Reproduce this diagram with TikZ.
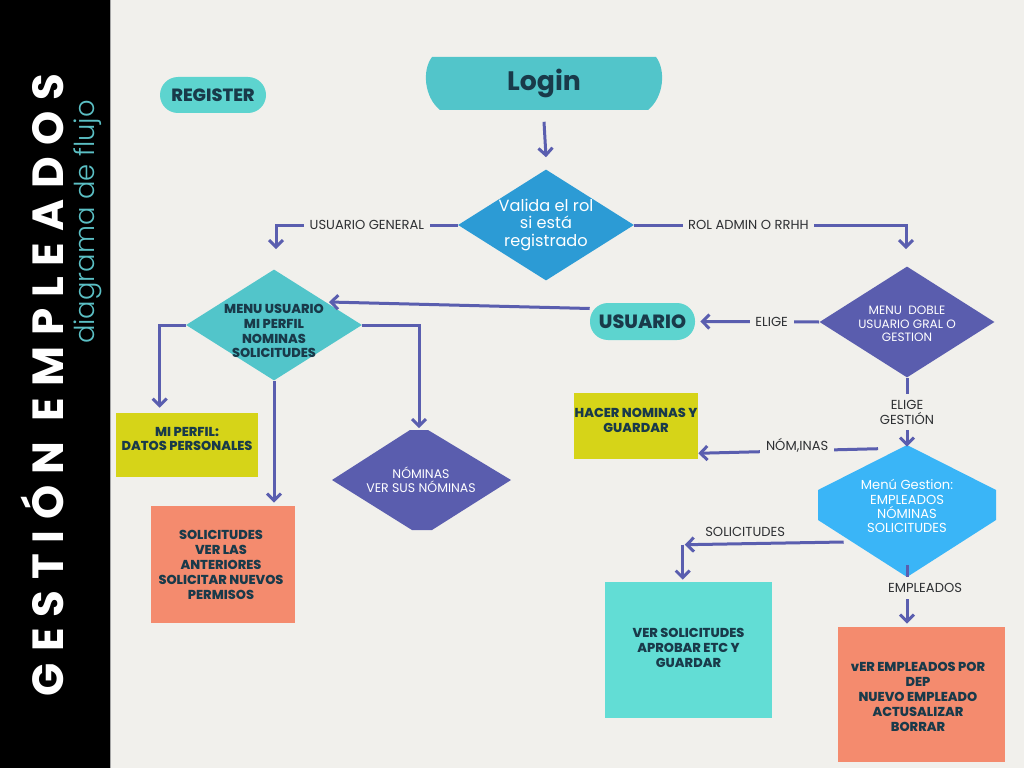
\documentclass[tikz,border=0pt]{standalone}
\usepackage{fontspec}
\setmainfont{Poppins}
\newfontfamily\titlefont[LetterSpace=25]{Poppins}
\newfontfamily\lightfont{Poppins Light}
\newfontfamily\heavyfont{Poppins ExtraBold}
\usetikzlibrary{shapes.geometric,arrows.meta,calc}
\definecolor{bg}{HTML}{F1F0EC}
\definecolor{tealL}{HTML}{52C5CA}
\definecolor{tealP}{HTML}{5DD4CF}
\definecolor{tealB}{HTML}{62DDD5}
\definecolor{blueV}{HTML}{2C9BD5}
\definecolor{purp}{HTML}{5A5DAE}
\definecolor{lblue}{HTML}{3AB5F7}
\definecolor{yell}{HTML}{D6D418}
\definecolor{salm}{HTML}{F48B6E}
\definecolor{arrc}{HTML}{5A5EAF}
\definecolor{dark}{HTML}{193A4A}
\definecolor{lbltxt}{HTML}{2E3033}
\definecolor{subt}{HTML}{5BBFC4}
\def\px{0.025cm}
\begin{document}
\begin{tikzpicture}[x=0.025cm,y=-0.025cm,
  dia/.style={diamond, inner sep=0pt, draw=none},
  boxn/.style={rectangle, inner sep=0pt, draw=none},
  btext/.style={font=\heavyfont\fontsize{9.2}{10.6}\selectfont, text=dark, align=center, inner sep=0pt},
  wtext/.style={text=white, align=center, inner sep=0pt},
  arr/.style={draw=arrc, line width=3*\px, -{Straight Barb[length=5pt,width=10pt]}},
  lbl/.style={fill=bg, text=lbltxt, font=\fontsize{9.3}{11}\selectfont, inner xsep=4pt, inner ysep=3pt, align=center},
  lbltwo/.style={text=lbltxt, font=\fontsize{9.3}{11}\selectfont, inner sep=0pt}
]
\useasboundingbox (0,0) rectangle (1024,768);
\fill[bg] (0,0) rectangle (1024,768);
% sidebar
\fill[black] (0,0) rectangle (110,768);
\draw[gray!70, line width=1*\px] (110.5,0) -- (110.5,768);
\node[rotate=90, text=white, inner sep=0pt] (title) at (42,385) {\titlefont\bfseries\fontsize{31}{33}\selectfont GESTIÓN EMPLEADOS};
\node[rotate=90, text=subt, inner sep=0pt] (subtitle) at (88,222) {\lightfont\fontsize{19.5}{22}\selectfont diagrama de flujo};

% REGISTER
\node[boxn, fill=tealP, minimum width=106*\px, minimum height=36*\px, rounded corners=18*\px, font=\heavyfont\fontsize{12.6}{15}\selectfont, text=dark] (reg) at (213,95) {REGISTER};

% Login
\fill[tealL] (432,57) -- (656,57) .. controls (666,70) and (664,97) .. (648,110) -- (440,110) .. controls (424,97) and (422,70) .. (432,57);
\node[boxn, minimum width=220*\px, minimum height=53*\px, font=\bfseries\fontsize{19}{21}\selectfont, text=dark] (login) at (544,83) {Login};

% Valida
\node[dia, fill=blueV, minimum width=176*\px, minimum height=111*\px] (valida) at (546,225) {};
\node[wtext, font=\fontsize{11.5}{12.2}\selectfont] (validat) at (valida) {Valida el rol\\si está\\registrado};

% Menu usuario
\node[dia, fill=tealL, minimum width=176*\px, minimum height=111*\px] (mu) at (274,325) {};
\node[btext] (mut) at ($(mu)+(0,6)$) {MENU USUARIO\\MI PERFIL\\NOMINAS\\SOLICITUDES};

% Menu doble
\node[dia, fill=purp, minimum width=175*\px, minimum height=111*\px] (doble) at (907,322) {};
\node[wtext, font=\fontsize{8.6}{9.7}\selectfont] (doblet) at ($(doble)+(0,2)$) {MENU\ \ DOBLE\\USUARIO GRAL O\\GESTION};

% USUARIO pill
\node[boxn, fill=tealP, minimum width=105*\px, minimum height=37*\px, rounded corners=18*\px, font=\heavyfont\fontsize{13.6}{16}\selectfont, text=dark] (usuario) at (642.5,321.5) {USUARIO};

% Nominas hexagon
\fill[purp] (410,430) -- (428,430) -- (511,480) -- (432,530) -- (412,530) -- (332,480) -- cycle;
\node[boxn, minimum width=179*\px, minimum height=99*\px, text=white, align=center, font=\fontsize{8.9}{10}\selectfont] (nom) at (421,480) {NÓMINAS\\VER SUS NÓMINAS};

% Menu gestion hexagon
\fill[lblue] (907,445) -- (996,490) -- (996,520) -- (907,577) -- (818,520) -- (818,490) -- cycle;
\node[boxn, minimum width=178*\px, minimum height=132*\px] (gest) at (907,511) {};
\node[wtext, font=\fontsize{9.3}{10}\selectfont] (gestt) at (907,506) {Menú Gestion:\\EMPLEADOS\\NÓMINAS\\SOLICITUDES};

% Boxes
\node[boxn, fill=yell, minimum width=142*\px, minimum height=64*\px] (perfil) at (187,445) {};
\node[btext] (perfilt) at (187,439) {MI PERFIL:\\DATOS PERSONALES};

\node[boxn, fill=salm, minimum width=144*\px, minimum height=117*\px] (solic) at (223,564.5) {};
\node[btext] (solict) at (221,565) {SOLICITUDES\\VER LAS\\ANTERIORES\\SOLICITAR NUEVOS\\PERMISOS};

\node[boxn, fill=yell, minimum width=124*\px, minimum height=66*\px] (hacer) at (636,426) {};
\node[btext] (hacert) at (636,420) {HACER NOMINAS Y\\GUARDAR};

\node[boxn, fill=tealB, minimum width=167*\px, minimum height=136*\px] (versol) at (688.5,650) {};
\node[btext] (versolt) at (688.5,648) {VER SOLICITUDES\\APROBAR ETC Y\\GUARDAR};

\node[boxn, fill=salm, minimum width=167*\px, minimum height=135*\px] (emp) at (921.5,694.5) {};
\node[btext] (empt) at (918,697) {vER EMPLEADOS POR\\DEP\\NUEVO EMPLEADO\\ACTUSALIZAR\\BORRAR};

% Connectors
\draw[arr] ($(login.south)+(0,12)$) -- ($(valida.north)+(0,-12)$);
\draw[arr] (valida.west) -| ($(mu.north)+(2,-20)$) node[lbl, pos=0.25] (lug) {USUARIO GENERAL};
\draw[arr] (valida.east) -| ($(doble.north)+(-1,-17)$) node[lbl, pos=0.21] (lra) {ROL ADMIN O RRHH};
\draw[arr] (mu.west) -| ($(perfil.north west)+(44,-5)$);
\draw[arr] (mu.south) -- ($(mu.south |- solic.north)+(0,-3)$);
\draw[arr] (mu.east) -| ($(nom.north)+(-2,-2)$);
\draw[arr] ($(usuario.west)+(0,-13)$) -- ($(mu.center)+(55,-23)$);
\draw[arr] (doble.west) -- ($(usuario.east)+(5,0)$) node[lbl, pos=0.4] (lel) {ELIGE};
\draw[arr] (doble.south) -- ($(gest.north)+(0,2)$) node[lbl, pos=0.5, inner ysep=4pt] (leg) {ELIGE\\GESTIÓN};
\draw[arr] ($(gest.north)+(-29,4)$) -- ($(hacer.south east)+(0,-6)$) node[lbl, pos=0.45, yshift=3.5pt, inner ysep=4.5pt] (lnom) {NÓM,INAS};
\coordinate (sc) at ($(versol.north west)+(78,-37)$);
\draw[arr] ($(gest.west)+(26,31)$) -- ($(sc)+(2,0)$) node[lbltwo, pos=0.62, above=4pt] (lsol) {SOLICITUDES};
\draw[arr] (sc) -- ($(versol.north west)+(78,-2)$);
\draw[arr] ($(gest.south)+(0,-12)$) -- ($(emp.north)+(-14.5,-3)$);
\node[lbl, inner ysep=4.5pt] (lemp) at (925,588) {EMPLEADOS};
\end{tikzpicture}
\end{document}
